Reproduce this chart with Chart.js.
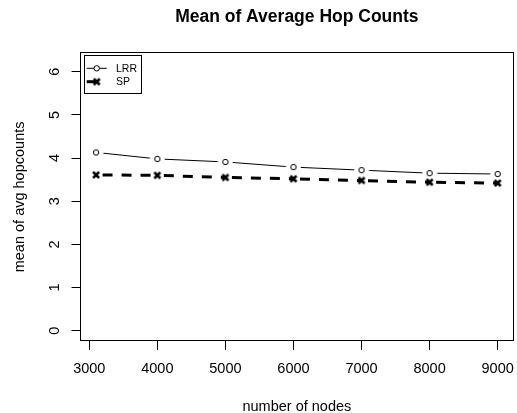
<!DOCTYPE html>
<html>
<head>
<meta charset="utf-8">
<script src="https://cdn.jsdelivr.net/npm/chart.js@4/dist/chart.umd.min.js"></script>
<style>
  html, body { margin: 0; padding: 0; background: #fff; }
</style>
</head>
<body>
<canvas id="chart_area" width="517" height="413"></canvas>
<script>
// data
const nodes = [3100, 4000, 5000, 6000, 7000, 8000, 9000];
const lrr = [4.13, 3.98, 3.91, 3.79, 3.72, 3.65, 3.63];
const sp = [3.61, 3.60, 3.55, 3.52, 3.48, 3.44, 3.42];
const xTicks = [3000, 4000, 5000, 6000, 7000, 8000, 9000];
const yTicks = [0, 1, 2, 3, 4, 5, 6];
const seriesNames = ['LRR', 'SP'];
const chartTitle = 'Mean of Average Hop Counts';
const xTitle = 'number of nodes';
const yTitle = 'mean of avg hopcounts';
const yLim = [0, 6.2];

const FONT = '"Liberation Sans", Arial, sans-serif';
Chart.defaults.font.family = FONT;
Chart.defaults.color = '#000';

// R style axis range: 4% extra on each side
const ext = (lo, hi) => [lo - 0.04 * (hi - lo), hi + 0.04 * (hi - lo)];
const xr = ext(Math.min(...nodes), Math.max(...nodes));
const yr = ext(yLim[0], yLim[1]);

// markers with a white halo so the line has a gap round each point (type="b")
function makeMarker(kind) {
  const c = document.createElement('canvas');
  c.width = 16; c.height = 16;
  const g = c.getContext('2d');
  if (kind === 'circle') {
    g.fillStyle = '#fff';
    g.beginPath(); g.arc(8, 8, 7.5, 0, Math.PI * 2); g.fill();
    g.strokeStyle = '#000'; g.lineWidth = 1;
    g.beginPath(); g.arc(8, 8, 2.7, 0, Math.PI * 2); g.stroke();
  } else {
    g.strokeStyle = '#000'; g.lineWidth = 2.6;
    g.beginPath();
    g.moveTo(5, 5); g.lineTo(11, 11);
    g.moveTo(11, 5); g.lineTo(5, 11);
    g.stroke();
  }
  return c;
}
const circleMark = makeMarker('circle');
const crossMark = makeMarker('cross');

const rBox = {
  id: 'rBox',
  afterDraw(chart) {
    const c = chart.ctx, a = chart.chartArea;
    c.save();
    c.strokeStyle = '#000';
    c.lineWidth = 1;
    c.strokeRect(Math.round(a.left) + 0.5, Math.round(a.top) + 0.5,
      Math.round(a.right - a.left) - 1, Math.round(a.bottom - a.top) - 1);

    // titles
    const cx = (a.left + a.right) / 2, cy = (a.top + a.bottom) / 2;
    c.fillStyle = '#000';
    c.textAlign = 'center';
    c.textBaseline = 'alphabetic';
    c.font = 'bold 17.5px ' + FONT;
    c.fillText(chartTitle, cx, 22);
    c.font = '14.5px ' + FONT;
    c.fillText(xTitle, cx, 411);
    c.save();
    c.translate(23.5, cy);
    c.rotate(-Math.PI / 2);
    c.fillText(yTitle, 0, 0);
    c.restore();

    // y tick labels, turned like R's default
    const ys = chart.scales.y;
    ys.ticks.forEach(t => {
      c.save();
      c.translate(58.5, ys.getPixelForValue(t.value));
      c.rotate(-Math.PI / 2);
      c.fillText(String(t.value), 0, 0);
      c.restore();
    });

    // legend
    const lx = 84, ly = 55;
    c.strokeRect(lx + 0.5, ly + 0.5, 57, 38);
    c.font = '10.5px ' + FONT;
    c.textAlign = 'left';
    c.textBaseline = 'middle';
    chart.data.datasets.forEach((ds, i) => {
      const y = 68.3 + i * 13.4;
      c.save();
      c.strokeStyle = '#000';
      c.lineWidth = ds.borderWidth;
      c.setLineDash(ds.borderDash || []);
      c.beginPath(); c.moveTo(86.7, y); c.lineTo(ds.borderDash ? 100 : 106.7, y); c.stroke();
      c.restore();
      if (ds.pointStyle === circleMark) {
        c.save();
        c.fillStyle = '#fff';
        c.beginPath(); c.arc(96.7, y, 2.7, 0, Math.PI * 2); c.fill(); c.stroke();
        c.restore();
      } else {
        c.drawImage(ds.pointStyle, 96.7 - 8, y - 8);
      }
      c.fillText(ds.label, 116, y + 0.5);
    });
    c.restore();
  }
};

const ctx = document.getElementById('chart_area').getContext('2d');
const chart = new Chart(ctx, {
  type: 'line',
  data: {
    datasets: [{
      label: seriesNames[0],
      data: nodes.map((x, i) => ({ x: x, y: lrr[i] })),
      borderColor: '#000',
      borderWidth: 1,
      pointStyle: circleMark,
      pointRadius: 3,
      tension: 0,
      order: 1,
    }, {
      label: seriesNames[1],
      data: nodes.map((x, i) => ({ x: x, y: sp[i] })),
      borderColor: '#000',
      borderWidth: 3,
      borderDash: [10, 9],
      borderCapStyle: 'butt',
      segment: { borderDashOffset: s => (s.p0DataIndex % 2 ? 31.5 : 12.5) },
      pointStyle: crossMark,
      pointRadius: 3,
      tension: 0,
      order: 0,
    }]
  },
  options: {
    responsive: false,
    animation: false,
    devicePixelRatio: 1,
    layout: { autoPadding: false, padding: { top: 52.4, right: 3.3, left: 0, bottom: 0 } },
    plugins: { legend: { display: false }, tooltip: { enabled: false }, title: { display: false } },
    scales: {
      x: {
        type: 'linear',
        min: xr[0], max: xr[1],
        afterBuildTicks: s => { s.ticks = xTicks.map(v => ({ value: v })); },
        afterFit: s => { s.height = 413 - 341.4; s.paddingLeft = 0; s.paddingRight = 0; },
        grid: { drawOnChartArea: false, tickLength: 8.5, color: '#000', lineWidth: 1 },
        border: { display: false },
        ticks: { color: '#000', font: { size: 14.5 }, padding: 10, maxRotation: 0, autoSkip: false,
          callback: v => String(v) }
      },
      y: {
        type: 'linear',
        min: yr[0], max: yr[1],
        afterBuildTicks: s => { s.ticks = yTicks.map(v => ({ value: v })); },
        afterFit: s => { s.width = 80; s.paddingTop = 0; s.paddingBottom = 0; },
        grid: { drawOnChartArea: false, tickLength: 8.5, color: '#000', lineWidth: 1 },
        border: { display: false },
        ticks: { display: false }
      }
    }
  },
  plugins: [rBox]
});
</script>
</body>
</html>
